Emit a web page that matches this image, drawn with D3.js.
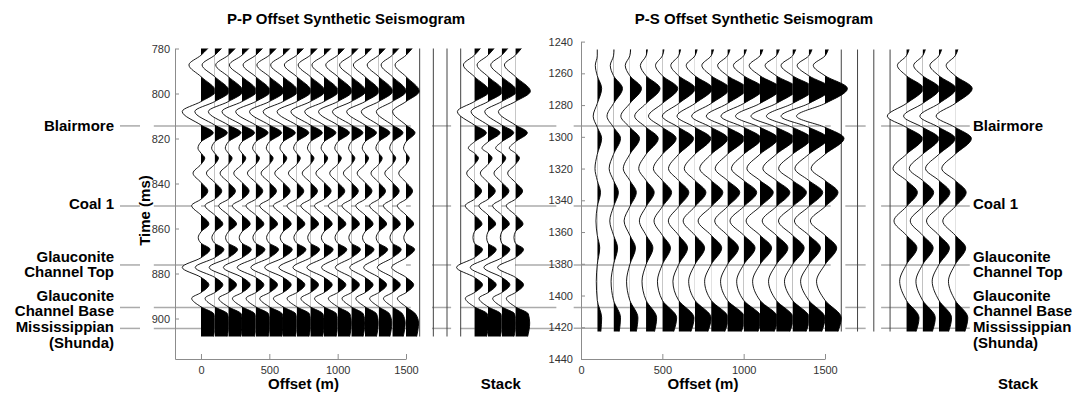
<!DOCTYPE html>
<html>
<head>
<meta charset="utf-8">
<script src="https://cdn.jsdelivr.net/npm/d3@7"></script>
<style>
  body { margin: 0; background: #fff; }
  svg { display: block; font-family: "Liberation Sans", Arial, Helvetica, sans-serif; }
</style>
</head>
<body>
<svg id="chart" width="1084" height="394"></svg>
<script>
// ---------------- data ----------------
// Formation tops (label lines) and their two-way times in each gather
const horizonNames = [["Blairmore"], ["Coal 1"], ["Glauconite", "Channel Top"], ["Glauconite", "Channel Base"], ["Mississippian", "(Shunda)"]];
const ppHorizonTimes = [814.4, 850, 876.2, 895.1, 904.4];
const psHorizonTimes = [1293.2, 1343.6, 1380.7, 1407.5, 1420.7];

// P-P gather: trace offsets (m), dead traces and the repeated stack trace
const ppOffsets = [0, 100, 200, 300, 400, 500, 600, 700, 800, 900, 1000, 1100, 1200, 1300, 1400, 1500];
const ppDeadOffsets = [1600, 1700, 1800, 1900];
const ppStackOffsets = [2000, 2100, 2200, 2300];
const ppXTicks = [0, 500, 1000, 1500];
const ppYTicks = [780, 800, 820, 840, 860, 880, 900];

// P-P wavelet picks: times (ms) of peaks/troughs and of zero crossings
const ppPickTimes = [780, 787.3, 799, 808, 817.4, 824.3, 828.7, 835.4, 843.3, 849.8, 858, 864, 869.2, 877.3, 885, 891, 898, 902, 908];
const ppZeroTimes = [783, 792.5, 803.6, 814, 821.5, 826.5, 831.5, 839.5, 847, 854, 861.5, 866.5, 873, 881.7, 888.5, 894.8];
// amplitude at each pick (rows) for each offset 0..1500 m (columns); 1 = one trace spacing
const ppPickAmps = [
  [0.5, 0.5, 0.5, 0.5, 0.5, 0.5, 0.5, 0.5, 0.5, 0.5, 0.49, 0.49, 0.48, 0.48, 0.47, 0.45],
  [-0.88, -0.92, -0.92, -0.92, -0.92, -0.91, -0.9, -0.9, -0.89, -0.88, -0.87, -0.86, -0.85, -0.84, -0.82, -0.8],
  [1.08, 1.08, 1.08, 1.08, 1.08, 1.08, 1.08, 1.07, 1.07, 1.06, 1.06, 1.05, 1.04, 1.03, 1.01, 0.97],
  [-1.37, -1.45, -1.46, -1.46, -1.46, -1.45, -1.45, -1.43, -1.42, -1.41, -1.4, -1.38, -1.34, -1.27, -1.17, -0.98],
  [0.9, 0.93, 0.93, 0.92, 0.91, 0.9, 0.9, 0.89, 0.88, 0.87, 0.86, 0.85, 0.84, 0.82, 0.78, 0.66],
  [-0.22, -0.22, -0.22, -0.22, -0.22, -0.22, -0.22, -0.22, -0.21, -0.21, -0.21, -0.2, -0.2, -0.2, -0.19, -0.18],
  [0.28, 0.28, 0.28, 0.28, 0.28, 0.28, 0.28, 0.27, 0.27, 0.27, 0.27, 0.26, 0.26, 0.26, 0.25, 0.24],
  [-0.58, -0.6, -0.6, -0.6, -0.6, -0.6, -0.6, -0.6, -0.59, -0.59, -0.58, -0.58, -0.57, -0.56, -0.55, -0.53],
  [0.5, 0.52, 0.52, 0.52, 0.52, 0.52, 0.52, 0.52, 0.52, 0.52, 0.52, 0.51, 0.51, 0.5, 0.5, 0.48],
  [-0.68, -0.7, -0.7, -0.7, -0.7, -0.7, -0.7, -0.7, -0.69, -0.69, -0.68, -0.68, -0.67, -0.66, -0.65, -0.63],
  [0.58, 0.6, 0.6, 0.6, 0.6, 0.6, 0.6, 0.6, 0.6, 0.6, 0.6, 0.59, 0.59, 0.58, 0.58, 0.56],
  [-0.2, -0.2, -0.2, -0.2, -0.2, -0.2, -0.2, -0.2, -0.19, -0.19, -0.19, -0.18, -0.18, -0.18, -0.17, -0.16],
  [0.66, 0.68, 0.68, 0.68, 0.68, 0.68, 0.68, 0.68, 0.68, 0.67, 0.67, 0.67, 0.66, 0.66, 0.65, 0.63],
  [-1.37, -1.42, -1.4, -1.36, -1.35, -1.35, -1.34, -1.3, -1.27, -1.25, -1.18, -1.17, -1.12, -1.1, -1.1, -1.05],
  [0.58, 0.6, 0.6, 0.6, 0.6, 0.6, 0.6, 0.6, 0.6, 0.6, 0.6, 0.59, 0.59, 0.58, 0.58, 0.56],
  [-0.68, -0.7, -0.7, -0.7, -0.7, -0.7, -0.7, -0.7, -0.69, -0.69, -0.68, -0.68, -0.67, -0.66, -0.65, -0.63],
  [0.95, 0.95, 0.95, 0.95, 0.95, 0.95, 0.94, 0.94, 0.93, 0.92, 0.9, 0.88, 0.85, 0.8, 0.75, 0.7],
  [1.05, 1.05, 1.05, 1.05, 1.05, 1.05, 1.04, 1.04, 1.03, 1.02, 1.01, 1.0, 0.98, 0.96, 0.94, 0.92],
  [0.92, 0.92, 0.92, 0.92, 0.92, 0.92, 0.91, 0.9, 0.9, 0.89, 0.88, 0.86, 0.84, 0.82, 0.8, 0.78]
];
// P-P stack trace amplitude at the same picks
const ppStackAmps = [0.44, -0.8, 1.1, -1.24, 0.88, -0.44, 0.3, -0.56, 0.53, -0.66, 0.56, -0.1, 0.6, -1.3, 0.6, -0.66, 0.95, 1.05, 0.9];

// P-S gather
const psOffsets = [100, 200, 300, 400, 500, 600, 700, 800, 900, 1000, 1100, 1200, 1300, 1400, 1500];
const psDeadOffsets = [1600, 1700, 1800, 1900];
const psStackOffsets = [2000, 2100, 2200, 2300];
const psXTicks = [0, 500, 1000, 1500];
const psYTicks = [1240, 1260, 1280, 1300, 1320, 1340, 1360, 1380, 1400, 1420, 1440];

const psPickTimes = [1245, 1255, 1269.5, 1287, 1301, 1320, 1335, 1353, 1370, 1391, 1414, 1422.7];
const psZeroTimes = [1249, 1261.5, 1279, 1294, 1311, 1327.5, 1344, 1362, 1380.5, 1403];
// amplitude at each pick (rows) for each offset 100..1500 m (columns)
const psPickAmps = [
  [0, 0.03, 0.05, 0.08, 0.1, 0.12, 0.14, 0.15, 0.16, 0.17, 0.18, 0.19, 0.2, 0.2, 0.2],
  [-0.12, -0.2, -0.28, -0.35, -0.42, -0.48, -0.53, -0.57, -0.6, -0.63, -0.66, -0.68, -0.7, -0.71, -0.72],
  [0.27, 0.55, 0.72, 0.86, 0.95, 1.02, 1.08, 1.12, 1.18, 1.22, 1.26, 1.3, 1.32, 1.35, 1.38],
  [-0.25, -0.4, -0.55, -0.7, -0.85, -1.0, -1.1, -1.2, -1.3, -1.4, -1.5, -1.55, -1.6, -1.7, -1.75],
  [0.27, 0.43, 0.6, 0.75, 0.85, 0.92, 0.98, 1.02, 1.05, 1.08, 1.1, 1.12, 1.14, 1.16, 1.17],
  [-0.14, -0.27, -0.4, -0.45, -0.55, -0.62, -0.65, -0.7, -0.75, -0.75, -0.8, -0.82, -0.85, -0.85, -0.85],
  [0.2, 0.3, 0.4, 0.5, 0.57, 0.63, 0.68, 0.72, 0.76, 0.8, 0.82, 0.84, 0.86, 0.86, 0.8],
  [-0.08, -0.23, -0.35, -0.41, -0.51, -0.63, -0.72, -0.8, -0.78, -0.84, -0.85, -0.86, -0.86, -0.88, -0.9],
  [0.15, 0.25, 0.35, 0.42, 0.5, 0.55, 0.6, 0.65, 0.68, 0.7, 0.72, 0.72, 0.72, 0.72, 0.72],
  [-0.06, -0.15, -0.2, -0.25, -0.3, -0.35, -0.38, -0.4, -0.42, -0.43, -0.45, -0.47, -0.49, -0.5, -0.52],
  [0.27, 0.43, 0.5, 0.65, 0.88, 0.95, 1.0, 1.05, 1.08, 1.1, 1.1, 1.05, 1.05, 1.0, 1.0],
  [0.22, 0.35, 0.4, 0.52, 0.7, 0.76, 0.8, 0.84, 0.86, 0.88, 0.88, 0.84, 0.84, 0.8, 0.8]
];
const psStackAmps = [0.17, -0.55, 1.05, -1.17, 1.0, -0.82, 0.68, -0.76, 0.65, -0.41, 0.78, 0.6];

// ---------------- layout ----------------
const GAIN = 100;               // amplitude 1 plots as a 100 m deflection
const FONT_BOLD = 15;
const svg = d3.select("#chart");
const defs = svg.append("defs");

const xPP = d3.scaleLinear().domain([-190, 1500]).range([175, 406]);
const yPP = d3.scaleLinear().domain([780, 918]).range([48.5, 359]);
const xPS = d3.scaleLinear().domain([0, 1500]).range([581, 825]);
const yPS = d3.scaleLinear().domain([1240, 1440]).range([41.6, 359]);

// baseline offsets (relative to a label line) of each label row
const labelDy = [[5.4], [3], [-2.6, 12.4], [-6.8, 8.2], [3.9, 19.5]];
const HORIZON_COLOR = "#ababab";

// --------- horizon lines (drawn first, traces paint over them) ---------
const gH = svg.append("g").attr("stroke", HORIZON_COLOR).attr("stroke-width", 1.5);
const ppSpans = [[-345, 1535], [1690, 1830], [1895, 2600]];
const psSpans = [[-45, 1535], [1625, 1750], [1845, 2390]];
const leftLabelX = 114;
ppHorizonTimes.forEach((t, i) => {
  const yy = yPP(t);
  gH.append("line").attr("x1", leftLabelX + 6).attr("x2", leftLabelX + 26).attr("y1", yy).attr("y2", yy);
  ppSpans.forEach(s => gH.append("line").attr("x1", xPP(s[0])).attr("x2", xPP(s[1])).attr("y1", yy).attr("y2", yy));
});
psHorizonTimes.forEach(t => {
  const yy = yPS(t);
  psSpans.forEach(s => gH.append("line").attr("x1", xPS(s[0])).attr("x2", xPS(s[1])).attr("y1", yy).attr("y2", yy));
});

// ---------------- axes ----------------
const plain = d3.format("d");
function styleAxis(g) {
  g.selectAll(".domain").attr("stroke", "#8c8c8c").attr("stroke-width", 1);
  g.selectAll(".tick line").attr("stroke", "#8c8c8c");
  g.selectAll(".tick text").attr("fill", "#333").attr("font-size", 11)
    .attr("font-family", "'Liberation Sans', Arial, sans-serif");
}
svg.append("g").attr("transform", `translate(${xPP(-190)},0)`)
  .call(d3.axisLeft(yPP).tickValues(ppYTicks).tickFormat(plain).tickSizeInner(-4).tickSizeOuter(0).tickPadding(5))
  .call(styleAxis);
svg.append("g").attr("transform", `translate(0,${yPP(918)})`)
  .call(d3.axisBottom(xPP).tickValues(ppXTicks).tickFormat(plain).tickSizeInner(-5).tickSizeOuter(0).tickPadding(7))
  .call(styleAxis);
svg.append("g").attr("transform", `translate(${xPS(0)},0)`)
  .call(d3.axisLeft(yPS).tickValues(psYTicks).tickFormat(plain).tickSizeInner(-4).tickSizeOuter(0).tickPadding(8))
  .call(styleAxis);
svg.append("g").attr("transform", `translate(0,${yPS(1440)})`)
  .call(d3.axisBottom(xPS).tickValues(psXTicks).tickFormat(plain).tickSizeInner(-5).tickSizeOuter(0).tickPadding(7))
  .call(styleAxis);

// ---------------- wiggle traces ----------------
let clipId = 0;
function tracePoints(pickTimes, amps, zeroTimes) {
  return pickTimes.map((t, k) => [t, amps[k]])
    .concat(zeroTimes.map(t => [t, 0]))
    .sort((a, b) => a[0] - b[0]);
}
function drawTrace(g, pts, offset, xs, ys) {
  const x0 = xs(offset);
  const idP = "cp" + (clipId++), idN = "cp" + (clipId++);
  defs.append("clipPath").attr("id", idP).attr("clipPathUnits", "userSpaceOnUse")
    .append("rect").attr("x", x0).attr("y", 0).attr("width", 200).attr("height", 394);
  defs.append("clipPath").attr("id", idN).attr("clipPathUnits", "userSpaceOnUse")
    .append("rect").attr("x", x0 - 200).attr("y", 0).attr("width", 200).attr("height", 394);
  const xAmp = d => xs(offset + GAIN * d[1]);
  const area = d3.area().curve(d3.curveMonotoneY).y(d => ys(d[0])).x0(x0).x1(xAmp);
  const line = d3.line().curve(d3.curveMonotoneY).y(d => ys(d[0])).x(xAmp);
  g.append("path").attr("d", area(pts)).attr("fill", "#fff").attr("clip-path", `url(#${idN})`);
  g.append("path").attr("d", area(pts)).attr("fill", "#000").attr("clip-path", `url(#${idP})`);
  g.append("path").attr("d", line(pts)).attr("fill", "none").attr("stroke", "#000").attr("stroke-width", 0.9);
}
function drawDead(g, offsets, xs, ys, t0, t1) {
  g.selectAll(null).data(offsets).join("line")
    .attr("x1", d => xs(d)).attr("x2", d => xs(d))
    .attr("y1", ys(t0)).attr("y2", ys(t1))
    .attr("stroke", "#444").attr("stroke-width", 1);
}

// P-P gather
const gPP = svg.append("g");
drawDead(gPP, ppDeadOffsets, xPP, yPP, ppPickTimes[0], ppPickTimes[ppPickTimes.length - 1]);
ppOffsets.forEach((off, j) => {
  drawTrace(gPP, tracePoints(ppPickTimes, ppPickAmps.map(r => r[j]), ppZeroTimes), off, xPP, yPP);
});
ppStackOffsets.forEach(off => drawTrace(gPP, tracePoints(ppPickTimes, ppStackAmps, ppZeroTimes), off, xPP, yPP));

// P-S gather
const gPS = svg.append("g");
drawDead(gPS, psDeadOffsets, xPS, yPS, psPickTimes[0], psPickTimes[psPickTimes.length - 1]);
psOffsets.forEach((off, j) => {
  drawTrace(gPS, tracePoints(psPickTimes, psPickAmps.map(r => r[j]), psZeroTimes), off, xPS, yPS);
});
psStackOffsets.forEach(off => drawTrace(gPS, tracePoints(psPickTimes, psStackAmps, psZeroTimes), off, xPS, yPS));

// ---------------- text ----------------
const txt = svg.append("g").attr("font-weight", "bold").attr("font-size", FONT_BOLD).attr("fill", "#000");
txt.append("text").attr("x", 346).attr("y", 24).attr("text-anchor", "middle").text("P-P Offset Synthetic Seismogram");
txt.append("text").attr("x", 754).attr("y", 24).attr("text-anchor", "middle").text("P-S Offset Synthetic Seismogram");
txt.append("text").attr("x", (xPP(0) + xPP(1500)) / 2).attr("y", 389).attr("text-anchor", "middle").text("Offset (m)");
txt.append("text").attr("x", (xPS(0) + xPS(1500)) / 2).attr("y", 389).attr("text-anchor", "middle").text("Offset (m)");
txt.append("text").attr("x", xPP(2150) + 6).attr("y", 389).attr("text-anchor", "middle").text("Stack");
txt.append("text").attr("x", 1018).attr("y", 389).attr("text-anchor", "middle").text("Stack");
txt.append("text").attr("transform", `translate(150,${yPP(852)}) rotate(-90)`).attr("text-anchor", "middle").text("Time (ms)");

horizonNames.forEach((lines, i) => {
  const yl = yPP(ppHorizonTimes[i]);
  const yr = yPS(psHorizonTimes[i]);
  lines.forEach((s, k) => {
    txt.append("text").attr("x", leftLabelX).attr("y", yl + labelDy[i][k]).attr("text-anchor", "end").text(s);
    txt.append("text").attr("x", 973).attr("y", yr + labelDy[i][k]).attr("text-anchor", "start").text(s);
  });
});
</script>
</body>
</html>
